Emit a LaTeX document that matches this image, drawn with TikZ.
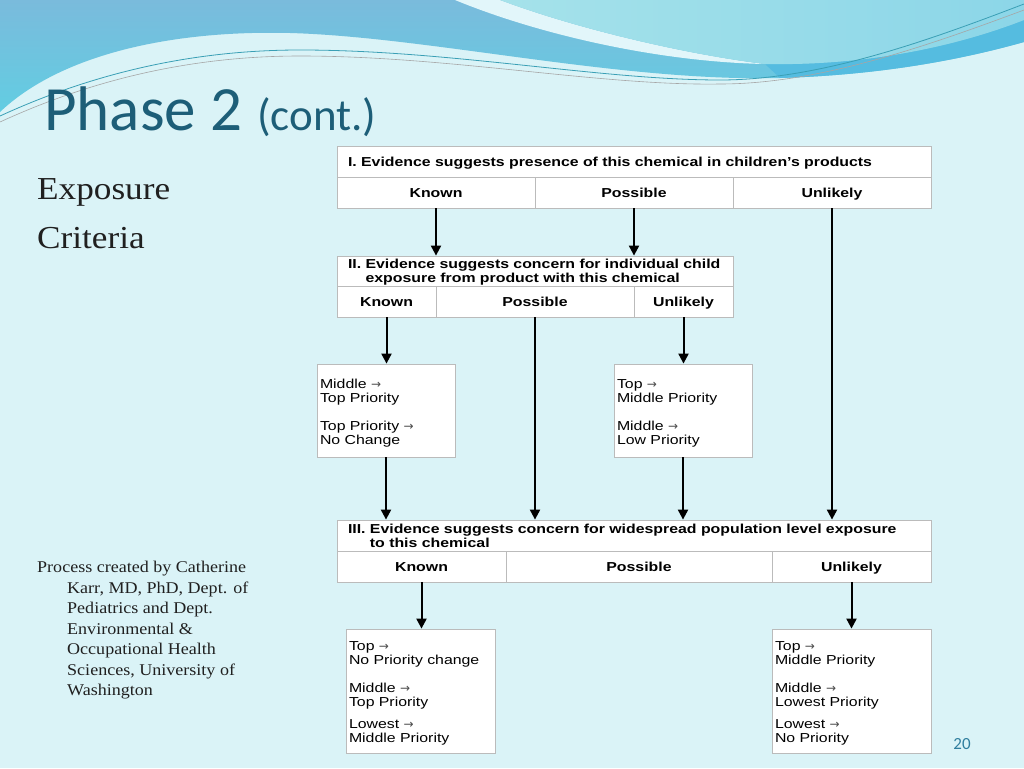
\documentclass[tikz,border=0pt]{standalone}
\usepackage{fontspec}
\usetikzlibrary{arrows.meta}
\setmainfont[FakeStretch=1.1]{Liberation Serif}
\newfontfamily\chartfont[FakeStretch=1.22]{Liberation Sans}
\newfontfamily\arrfont{DejaVu Sans}
\newfontfamily\titlefont{Carlito}
\definecolor{bgc}{HTML}{DAF3F7}
\definecolor{wavetop}{HTML}{7ABBDC}
\definecolor{wavebot}{HTML}{62CDE2}
\definecolor{waveband}{HTML}{55BCE0}
\definecolor{crescent}{HTML}{E2F6FA}
\definecolor{rightA}{HTML}{A5E2EA}
\definecolor{rightB}{HTML}{8CD6E8}
\definecolor{lineteal}{HTML}{3A9FB5}
\definecolor{titlec}{HTML}{1D5E78}
\definecolor{pagenum}{HTML}{2F7E9E}
\definecolor{bordergray}{HTML}{BBBBBB}
\definecolor{bodytext}{HTML}{202020}
\newcommand\myarr{{\arrfont\fontsize{12}{14}\selectfont\color{black!70}\raisebox{0.3pt}{→}}}
\tikzset{
  cellbox/.style={draw=bordergray, line width=0.8pt, fill=white, minimum height=31pt, inner sep=0pt,
    text height=10.5pt, text depth=0.2pt,
    font={\chartfont\bfseries\fontsize{13}{14}\selectfont}},
  hdrbox/.style={cellbox, align=left, inner xsep=11pt},
  prbox/.style={draw=bordergray, line width=0.8pt, fill=white, align=left, inner xsep=3pt, inner ysep=0pt,
    font={\chartfont\fontsize{13}{14}\selectfont}},
  flow/.style={line width=2pt, -{Triangle[width=10pt,length=10pt]}},
}
\begin{document}
\begin{tikzpicture}[x=1pt,y=-1pt]
\useasboundingbox (0,0) rectangle (1024,768);
\fill[bgc] (0,0) rectangle (1024,768);
% waves
\shade[top color=wavetop, bottom color=wavebot] (0,0) -- (0,112) .. controls (60,55) and (170,30) .. (290,33) .. controls (430,37) and (620,82) .. (780,78) .. controls (880,75) and (960,60) .. (1024,42) -- (1024,0) -- cycle;
\fill[waveband] (780,78) .. controls (880,75) and (960,60) .. (1024,42) -- (1024,20) .. controls (960,45) and (870,66) .. (765,64) -- cycle;
\fill[crescent] (455,0) .. controls (540,35) and (660,62) .. (765,64) .. controls (690,55) and (580,30) .. (500,0) -- cycle;
\shade[left color=rightA, right color=rightB] (500,0) .. controls (580,30) and (690,55) .. (765,64) .. controls (870,66) and (960,45) .. (1024,20) -- (1024,0) -- cycle;
\draw[lineteal, line width=0.8pt] (0,116) .. controls (100,70) and (200,50) .. (300,50) .. controls (450,50) and (600,80) .. (720,80) .. controls (820,80) and (930,40) .. (1024,4);
\draw[gray!70, line width=0.6pt] (0,122) .. controls (100,76) and (200,56) .. (300,56) .. controls (450,56) and (600,86) .. (720,84) .. controls (820,84) and (930,45) .. (1024,10);
% title and left texts
\node[anchor=base west, inner sep=0pt, text=titlec, font={\titlefont\fontsize{63}{63}\selectfont}] (ttl) at (44,130) {Phase 2};
\node[anchor=base west, inner sep=0pt, text=titlec, font={\titlefont\fontsize{45}{45}\selectfont}] (ttlc) at (257,130) {(cont.)};
\node[anchor=base west, inner sep=0pt, text=bodytext, font={\fontsize{32}{40}\selectfont}] (expo) at (37,199) {Exposure};
\node[anchor=base west, inner sep=0pt, text=bodytext, font={\fontsize{32}{40}\selectfont}] (crit) at (37,248) {Criteria};
\node[anchor=north west, inner sep=0pt, align=left, text=bodytext, font={\fontsize{16.4}{20.5}\selectfont}] (credit) at (37,561)
 {Process created by Catherine\\
  \hspace*{30pt}Karr, MD, PhD, Dept. of\\
  \hspace*{30pt}Pediatrics and Dept.\\
  \hspace*{30pt}Environmental \&\\
  \hspace*{30pt}Occupational Health\\
  \hspace*{30pt}Sciences, University of\\
  \hspace*{30pt}Washington};
\node[anchor=base, inner sep=0pt, text=pagenum, font={\titlefont\fontsize{17}{17}\selectfont}] (pg) at (962,749) {20};
% table I
\node[hdrbox, minimum width=594pt, text width=572pt] (t1h) at (634,161.5) {I. Evidence suggests presence of this chemical in children’s products};
\node[cellbox, minimum width=198pt] (t1k) at (436,192.5) {Known};
\node[cellbox, minimum width=198pt] (t1p) at (634,192.5) {Possible};
\node[cellbox, minimum width=198pt] (t1u) at (832,192.5) {Unlikely};
% table II
\node[hdrbox, minimum width=396pt, text width=374pt, minimum height=30pt, text height=12.5pt, text depth=17.5pt] (t2h) at (535,271) {II. Evidence suggests concern for individual child\\\hphantom{II.\ }exposure from product with this chemical};
\node[cellbox, minimum width=99pt] (t2k) at (386.5,301.5) {Known};
\node[cellbox, minimum width=198pt] (t2p) at (535,301.5) {Possible};
\node[cellbox, minimum width=99pt] (t2u) at (683.5,301.5) {Unlikely};
% middle boxes
\node[prbox, minimum height=93pt, text width=132pt, text height=24.5pt, text depth=68.5pt] (bxa) at (386,410.5) {Middle \myarr\\Top Priority\\[14pt]Top Priority \myarr\\No Change};
\node[prbox, minimum height=93pt, text width=132pt, text height=24.5pt, text depth=68.5pt] (bxb) at (683,410.5) {Top \myarr\\Middle Priority\\[14pt]Middle \myarr\\Low Priority};
% table III
\node[hdrbox, minimum width=594pt, text width=572pt, text height=13.5pt, text depth=17.5pt] (t3h) at (634,535.5) {III. Evidence suggests concern for widespread population level exposure\\\hphantom{III.\ }to this chemical};
\node[cellbox, minimum width=169pt] (t3k) at (421.5,566.5) {Known};
\node[cellbox, minimum width=266pt] (t3p) at (639,566.5) {Possible};
\node[cellbox, minimum width=159pt] (t3u) at (851.5,566.5) {Unlikely};
% bottom boxes
\node[prbox, minimum height=124pt, text width=143pt, text height=21.5pt, text depth=102.5pt] (bxc) at (420.5,691) {Top \myarr\\No Priority change\\[14pt]Middle \myarr\\Top Priority\\[8pt]Lowest \myarr\\Middle Priority};
\node[prbox, minimum height=124pt, text width=153pt, text height=21.5pt, text depth=102.5pt] (bxd) at (851.5,691) {Top \myarr\\Middle Priority\\[14pt]Middle \myarr\\Lowest Priority\\[8pt]Lowest \myarr\\No Priority};
% connectors
\draw[flow] (t1k.south) -- (t1k.south |- t2h.north);
\draw[flow] (t1p.south) -- (t1p.south |- t2h.north);
\draw[flow] (t1u.south) -- (t1u.south |- t3h.north);
\draw[flow] (t2k.south) -- (t2k.south |- bxa.north);
\draw[flow] (t2p.south) -- (t2p.south |- t3h.north);
\draw[flow] (t2u.south) -- (t2u.south |- bxb.north);
\draw[flow] (bxa.south) -- (bxa.south |- t3h.north);
\draw[flow] (bxb.south) -- (bxb.south |- t3h.north);
\draw[flow] (t3k.south) -- (t3k.south |- bxc.north);
\draw[flow] (t3u.south) -- (t3u.south |- bxd.north);
\end{tikzpicture}
\end{document}
